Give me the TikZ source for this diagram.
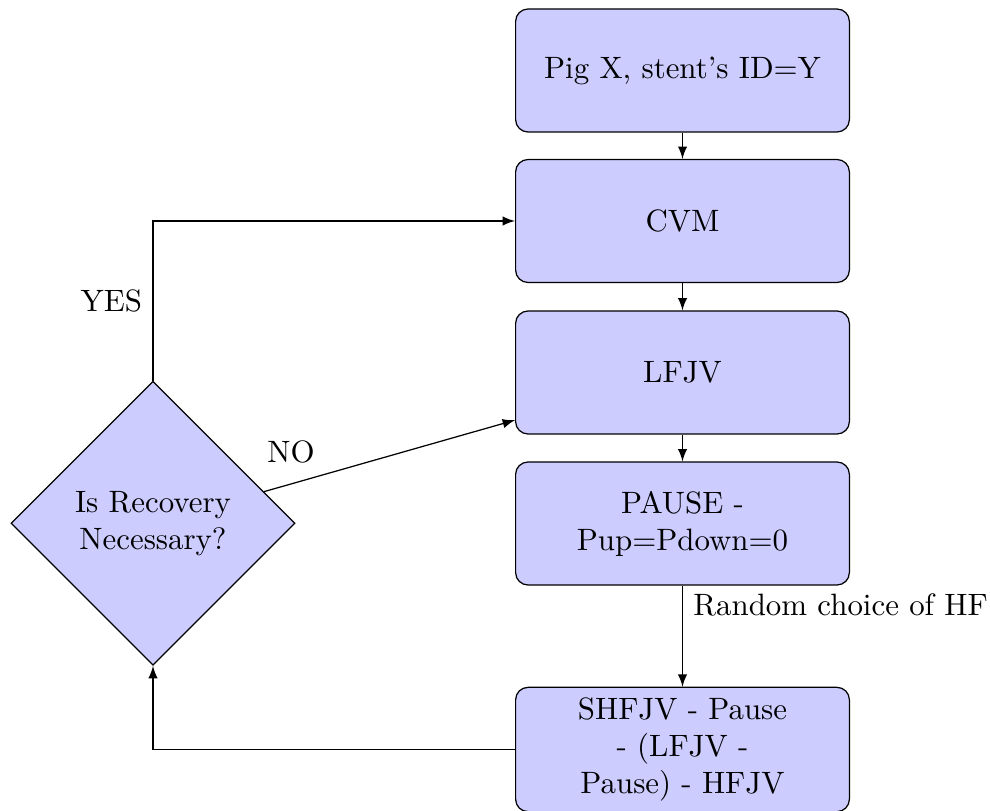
\documentclass[tikz,border=0pt]{standalone}
\usetikzlibrary{shapes.geometric,arrows}
\begin{document}
\begin{tikzpicture}[x=0.3236pt,y=-0.3236pt,
  block/.style={rectangle,draw=black,fill=blue!20,rounded corners,minimum width=108pt,minimum height=39.8pt,align=center,inner sep=3.33pt},
  decision/.style={diamond,draw=black,fill=blue!20,minimum width=91.9pt,minimum height=91.9pt,inner sep=0pt,align=center},
  conn/.style={draw,-latex}]
\useasboundingbox (0,0) rectangle (990,811);
\node[block] (b1) at (682.5,70.5) {Pig X, stent's ID=Y};
\node[block] (b2) at (682.5,221) {CVM};
\node[block] (b3) at (682.5,372.5) {LFJV};
\node[block] (b4) at (682.5,523.5) {PAUSE -\\Pup=Pdown=0};
\node[block] (b5) at (682.5,749.5) {SHFJV - Pause\\- (LFJV -\\Pause) - HFJV};
\node[decision] (dec) at (153,523.3) {Is Recovery\\Necessary?};
\path[conn] (b1) -- (b2);
\path[conn] (b2) -- (b3);
\path[conn] (b3) -- (b4);
\path[conn] (b4) -- node[right,pos=0.19] (lr) {Random choice of HF} (b5);
\path[conn] (b5.west) -| (dec.south);
\path[conn] (dec.north) |- node[left,pos=0.25] (ly) {YES} (b2.west);
\path[conn] (dec) -- node[above left,pos=0.245] (ln) {NO} (b3);
\end{tikzpicture}
\end{document}
